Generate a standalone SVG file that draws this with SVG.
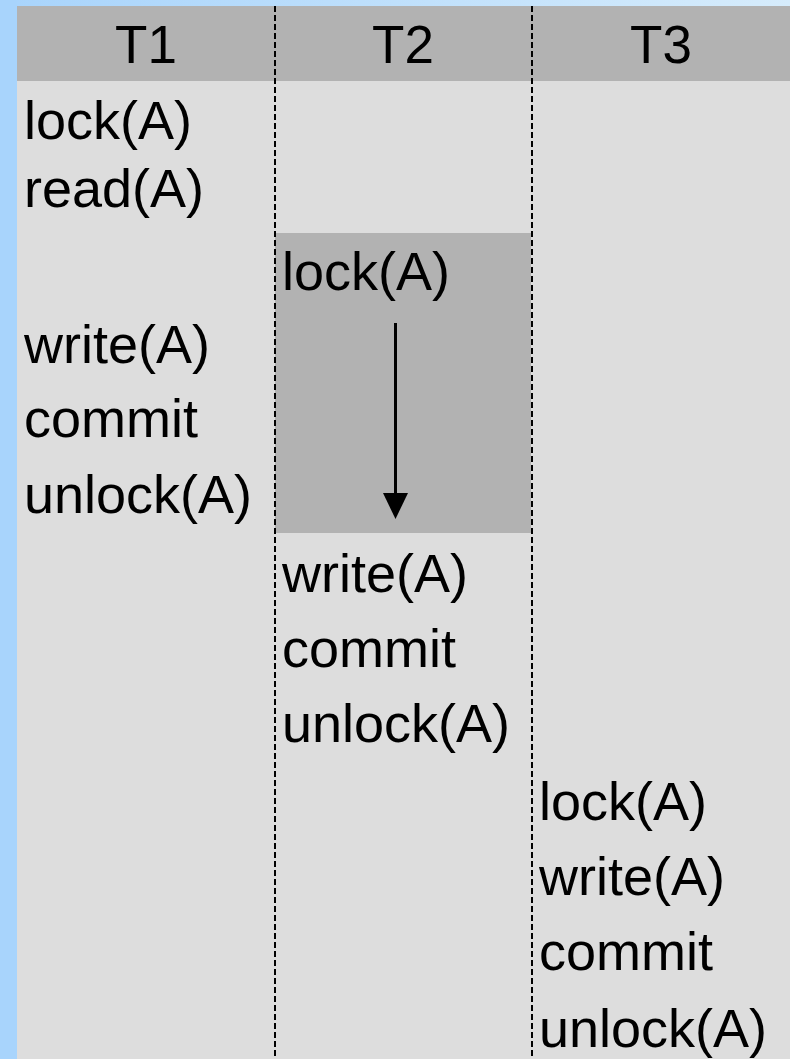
<svg xmlns="http://www.w3.org/2000/svg" width="790" height="1059" viewBox="0 0 790 1059">
<defs>
<linearGradient id="bg" x1="0" y1="0" x2="1" y2="0">
<stop offset="0" stop-color="#a8d4fc"/>
<stop offset="1" stop-color="#d6ecfc"/>
</linearGradient>
<marker id="arr" markerWidth="8" markerHeight="9" refX="8" refY="4.5" orient="auto" markerUnits="userSpaceOnUse" viewBox="0 0 8 9">
<path d="M0,0 L8,4.5 L0,9 Z" fill="#000"/>
</marker>
<style>
.t{font-family:"Liberation Sans",Arial,sans-serif;font-size:54px;fill:#000}
.h{font-family:"Liberation Sans",Arial,sans-serif;font-size:53px;fill:#000;text-anchor:middle}
.sep{stroke:#000;stroke-width:2;stroke-dasharray:6 3}
</style>
</defs>
<rect x="0" y="0" width="790" height="1059" fill="url(#bg)"/>
<rect x="0" y="0" width="17" height="1059" fill="#a8d4fc"/>
<g id="table">
<rect x="17" y="6" width="773" height="1053" fill="#dddddd"/>
<rect x="17" y="6" width="773" height="75" fill="#b2b2b2"/>
<rect x="275" y="233" width="256" height="300" fill="#b2b2b2"/>
</g>
<g id="headers">
<text class="h" x="146" y="63">T1</text>
<text class="h" x="403" y="63">T2</text>
<text class="h" x="661" y="63">T3</text>
</g>
<g id="T1">
<text class="t" x="24" y="139">lock(A)</text>
<text class="t" x="24" y="207">read(A)</text>
<text class="t" x="24" y="363">write(A)</text>
<text class="t" x="24" y="437">commit</text>
<text class="t" x="24" y="513">unlock(A)</text>
</g>
<g id="T2">
<text class="t" x="282" y="290">lock(A)</text>
<text class="t" x="282" y="592">write(A)</text>
<text class="t" x="282" y="667">commit</text>
<text class="t" x="282" y="742">unlock(A)</text>
</g>
<g id="T3">
<text class="t" x="539" y="820">lock(A)</text>
<text class="t" x="539" y="895">write(A)</text>
<text class="t" x="539" y="970">commit</text>
<text class="t" x="539" y="1047">unlock(A)</text>
</g>
<g id="connectors">
<line class="sep" x1="275" y1="6" x2="275" y2="1059"/>
<line class="sep" x1="532" y1="6" x2="532" y2="1059"/>
<line x1="395.5" y1="323" x2="395.5" y2="496" stroke="#000" stroke-width="3"/>
<polygon points="383,493 408,493 395.5,519" fill="#000"/>
</g>
</svg>
